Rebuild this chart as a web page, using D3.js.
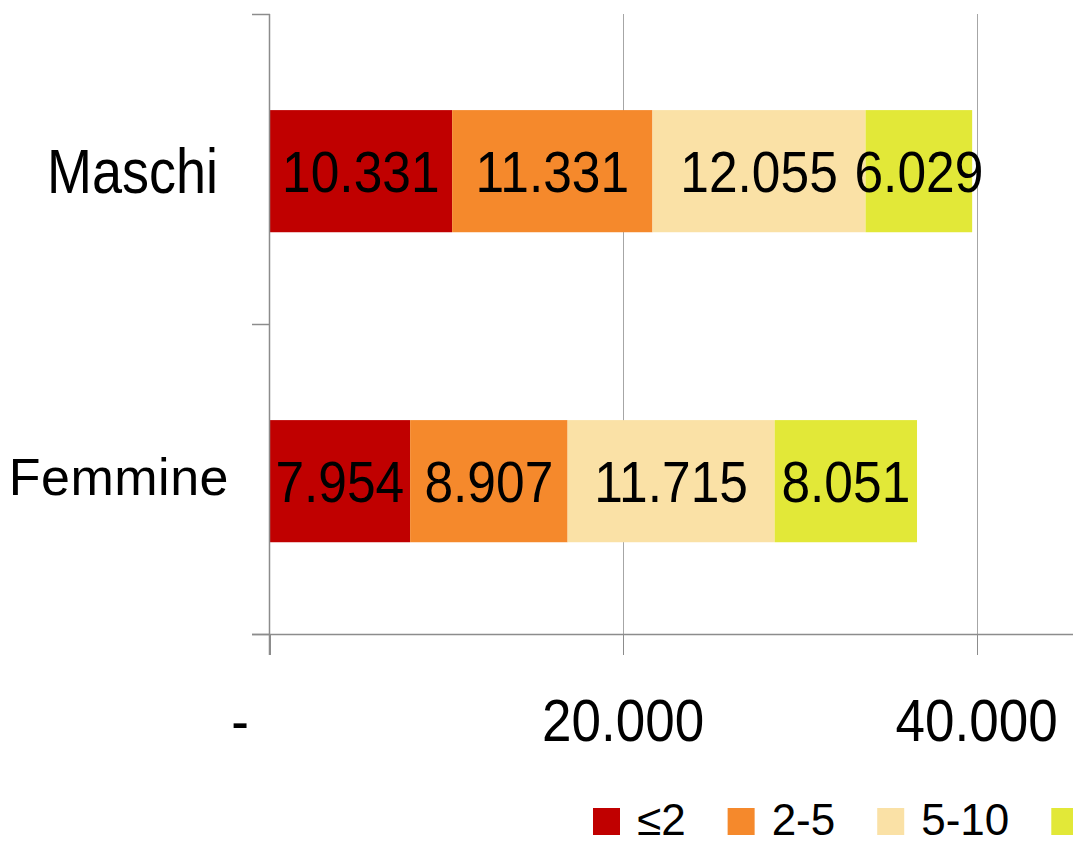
<!DOCTYPE html>
<html><head><meta charset="utf-8">
<script src="https://cdn.jsdelivr.net/npm/d3@7"></script>
<style>
html,body{margin:0;padding:0;background:#fff;}
svg{display:block;font-family:"Liberation Sans",Arial,sans-serif;}
</style></head>
<body>
<svg id="c" width="1073" height="845"></svg>
<script>
const categories = ["Maschi", "Femmine"];
const seriesNames = ["≤2", "2-5", "5-10", ">10"];
const seriesColors = ["#C00000", "#F5892C", "#FAE1A6", "#E2E838"];
const maschi = [10331, 11331, 12055, 6029];
const femmine = [7954, 8907, 11715, 8051];
const tickValues = [0, 20000, 40000];
const tickLabels = ["-", "20.000", "40.000"];

const values = [maschi, femmine];
const fmt = v => d3.format(",")(v).replace(/,/g, ".");

const svg = d3.select("#c");
const x = d3.scaleLinear().domain([0, 45450]).range([269.5, 1073]);
const y = d3.scaleBand().domain(categories).range([14, 634]).padding(0);
const step = y.step();
const barOff = step * 0.31, barH = step * 0.394;

const stacked = d3.stack().keys(d3.range(seriesNames.length))(values.map(v => Object.assign({}, v)));

// gridlines
svg.append("g").selectAll("line").data(tickValues.slice(1)).join("line")
  .attr("x1", d => Math.round(x(d)) + 0.5).attr("x2", d => Math.round(x(d)) + 0.5)
  .attr("y1", 14).attr("y2", 655)
  .attr("stroke", "#a6a6a6").attr("stroke-width", 1);

// bars
const gBars = svg.append("g");
stacked.forEach((layer, si) => {
  layer.forEach((seg, ci) => {
    gBars.append("rect")
      .attr("x", x(seg[0])).attr("width", x(seg[1]) - x(seg[0]))
      .attr("y", y(categories[ci]) + barOff).attr("height", barH)
      .attr("fill", seriesColors[si]);
  });
});

// y axis line and ticks
svg.append("line").attr("x1", 269.5).attr("x2", 269.5).attr("y1", 14).attr("y2", 655)
  .attr("stroke", "#8c8c8c").attr("stroke-width", 1.5);
const yTicks = [y(categories[0]), y(categories[1]), y(categories[1]) + step];
svg.append("g").selectAll("line").data(yTicks).join("line")
  .attr("x1", 252).attr("x2", 270).attr("y1", d => d + 0.5).attr("y2", d => d + 0.5)
  .attr("stroke", "#8c8c8c").attr("stroke-width", 1.5);
// x axis line
svg.append("line").attr("x1", 252).attr("x2", 1073).attr("y1", 634.5).attr("y2", 634.5)
  .attr("stroke", "#8c8c8c").attr("stroke-width", 1.5);
// x ticks
svg.append("g").selectAll("line").data(tickValues).join("line")
  .attr("x1", d => Math.round(x(d)) + 0.5).attr("x2", d => Math.round(x(d)) + 0.5)
  .attr("y1", 634).attr("y2", 655).attr("stroke", "#8c8c8c").attr("stroke-width", 1);

// x tick labels
svg.append("g").selectAll("text").data(tickValues).join("text")
  .attr("transform", (d, i) => `translate(${i === 0 ? 240 : x(d)},741) scale(1,1.1)`)
  .attr("text-anchor", "middle").attr("font-size", 53).attr("fill", "#000")
  .text((d, i) => tickLabels[i]);

// category labels
svg.append("text").attr("transform", "translate(218,193) scale(1,1.17)")
  .attr("text-anchor", "end").attr("font-size", 54).text(categories[0]);
svg.append("text").attr("transform", "translate(229,495)")
  .attr("text-anchor", "end").attr("font-size", 52).attr("letter-spacing", 0.5).text(categories[1]);

// data labels
const gLab = svg.append("g");
stacked.forEach((layer, si) => {
  layer.forEach((seg, ci) => {
    const cy = y(categories[ci]) + barOff + barH / 2;
    gLab.append("text")
      .attr("transform", `translate(${(x(seg[0]) + x(seg[1])) / 2},${cy + 21}) scale(1,1.1)`)
      .attr("text-anchor", "middle").attr("font-size", 51.5).attr("fill", "#000")
      .text(fmt(values[ci][si]));
  });
});

// legend
const gLeg = svg.append("g");
let lx = 593;
seriesNames.forEach((name, i) => {
  gLeg.append("rect").attr("x", lx).attr("y", 808).attr("width", 27).attr("height", 27)
    .attr("fill", seriesColors[i]);
  if (lx + 44 < 1073) {
    const t = gLeg.append("text").attr("x", lx + 44).attr("y", 835)
      .attr("font-size", 44).attr("fill", "#000").text(name);
    lx += 44 + t.node().getComputedTextLength() + 42;
  }
});
</script>
</body></html>
